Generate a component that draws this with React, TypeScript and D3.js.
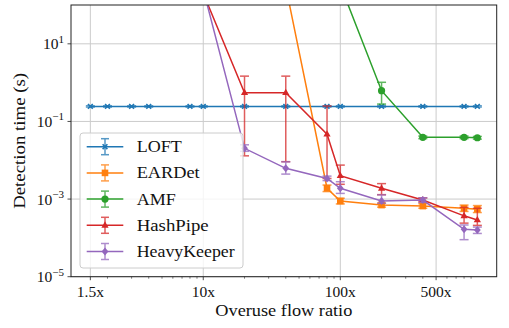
import React from "react";
import * as d3 from "d3";

const xTickValues = [1.5, 10, 100, 500];
const xTickLabels = ["1.5x", "10x", "100x", "500x"];
const yTickValues = [1e1, 1e-1, 1e-3, 1e-5];
const yTickExps = ["1", "\u22121", "\u22123", "\u22125"];

const loftX = [1.5, 2, 3, 4, 8, 10, 20, 40, 80, 100, 200, 400, 800, 1000];
const loftY = [0.244, 0.244, 0.244, 0.244, 0.244, 0.244, 0.244, 0.244, 0.244, 0.244, 0.244, 0.244, 0.244, 0.244];
const loftLo = [0.235, 0.235, 0.235, 0.235, 0.235, 0.235, 0.235, 0.235, 0.235, 0.235, 0.235, 0.235, 0.235, 0.235];
const loftHi = [0.253, 0.253, 0.253, 0.253, 0.253, 0.253, 0.253, 0.253, 0.253, 0.253, 0.253, 0.253, 0.253, 0.253];

const eardetX = [40, 80, 100, 200, 400, 800, 1000];
const eardetY = [300, 0.0019, 0.00089, 0.0007, 0.00066, 0.00058, 0.00055];
const eardetLo = [300, 0.00156, 0.00075, 0.00062, 0.00058, 0.00048, 0.00045];
const eardetHi = [300, 0.0023, 0.00105, 0.00079, 0.00076, 0.0007, 0.00068];

const amfX = [100, 200, 400, 800, 1000];
const amfY = [330, 0.62, 0.039, 0.039, 0.038];
const amfLo = [330, 0.28, 0.036, 0.036, 0.035];
const amfHi = [330, 1.02, 0.042, 0.042, 0.041];

const hashX = [10, 20, 40, 80, 100, 200, 400, 800, 1000];
const hashY = [200, 0.55, 0.55, 0.047, 0.004, 0.0019, 0.00095, 0.00037, 0.00029];
const hashLo = [200, 0.013, 0.0092, 0.0034, 0.0024, 0.0013, 0.00085, 0.00024, 0.00021];
const hashHi = [200, 1.47, 1.47, 0.25, 0.0075, 0.0025, 0.00107, 0.00061, 0.00058];

const hkX = [10, 20, 40, 80, 100, 200, 400, 800, 1000];
const hkY = [250, 0.0203, 0.0062, 0.0034, 0.0019, 0.00089, 0.00094, 0.000166, 0.000159];
const hkLo = [250, 0.017, 0.0044, 0.003, 0.0014, 0.00078, 0.00082, 0.00009, 0.00013];
const hkHi = [250, 0.025, 0.0091, 0.0039, 0.0028, 0.00128, 0.00108, 0.000215, 0.00019];

const seriesNames = ["LOFT", "EARDet", "AMF", "HashPipe", "HeavyKeeper"];
const seriesColors = ["#1f77b4", "#ff7f0e", "#2ca02c", "#d62728", "#9467bd"];
const seriesMarkers = ["x", "square", "circle", "triangle", "diamond"];

const series = [
  { x: loftX, y: loftY, lo: loftLo, hi: loftHi },
  { x: eardetX, y: eardetY, lo: eardetLo, hi: eardetHi },
  { x: amfX, y: amfY, lo: amfLo, hi: amfHi },
  { x: hashX, y: hashY, lo: hashLo, hi: hashHi },
  { x: hkX, y: hkY, lo: hkLo, hi: hkHi },
].map((s, i) => ({ ...s, name: seriesNames[i], color: seriesColors[i], marker: seriesMarkers[i] }));

const W = 509;
const H = 328;
const L = 71, R = 496.7, T = 5, B = 276.7;
const FONT = "'Liberation Serif', 'DejaVu Serif', serif";
const legendTextWidths = [45, 63, 39, 72, 98];

const xScale = d3.scaleLog().domain([1.5 / Math.pow(10, 0.1412), 1000 * Math.pow(10, 0.1412)]).range([L, R]);
const yScale = d3.scaleLog().domain([1e-5, 1e2]).range([B, T]);

function Marker({ type, cx, cy, color }: { type: string; cx: number; cy: number; color: string }) {
  if (type === "x") {
    const s = 2.4;
    return (
      <path
        d={`M${cx - s},${cy - s}L${cx + s},${cy + s}M${cx - s},${cy + s}L${cx + s},${cy - s}`}
        stroke={color}
        strokeWidth={1.6}
        fill="none"
      />
    );
  }
  if (type === "square") {
    return <rect x={cx - 3.3} y={cy - 3.3} width={6.6} height={6.6} fill={color} />;
  }
  if (type === "circle") {
    return <circle cx={cx} cy={cy} r={3.6} fill={color} />;
  }
  if (type === "triangle") {
    const s = 4;
    return <path d={`M${cx},${cy - s}L${cx + s * 0.9},${cy + s * 0.6}L${cx - s * 0.9},${cy + s * 0.6}Z`} fill={color} />;
  }
  const s = 4;
  return <path d={`M${cx},${cy - s}L${cx + s * 0.85},${cy}L${cx},${cy + s}L${cx - s * 0.85},${cy}Z`} fill={color} />;
}

export default function App() {
  const line = d3
    .line<[number, number]>()
    .x((d) => xScale(d[0]))
    .y((d) => yScale(d[1]));

  const minorTicks: number[] = [];
  for (let e = 0; e <= 3; e++) {
    for (let m = 2; m <= 9; m++) {
      const v = m * Math.pow(10, e);
      if (v >= xScale.domain()[0] && v <= xScale.domain()[1] && !xTickValues.includes(v)) minorTicks.push(v);
    }
  }

  const cap = 4.5;
  const legendRows = series.map((s, i) => ({ s, y: 146.7 + i * 26.2, w: legendTextWidths[i] }));

  return (
    <svg width={W} height={H} style={{ position: "absolute", left: 0, top: 0, background: "#fff" }} fontFamily={FONT}>
      <defs>
        <clipPath id="plotclip">
          <rect x={L} y={T} width={R - L} height={B - T} />
        </clipPath>
      </defs>
      <rect x={0} y={0} width={W} height={H} fill="#fff" />
      {/* grid */}
      <g stroke="#cbcbcb" strokeWidth={1}>
        {xTickValues.map((v) => (
          <line key={"gx" + v} x1={xScale(v)} x2={xScale(v)} y1={T} y2={B} />
        ))}
        {yTickValues.map((v) => (
          <line key={"gy" + v} x1={L} x2={R} y1={yScale(v)} y2={yScale(v)} />
        ))}
      </g>
      {/* data */}
      <g clipPath="url(#plotclip)">
        {series.map((s) => {
          const pts = s.x.map((xv, i) => [xv, s.y[i]] as [number, number]);
          return (
            <g key={s.name}>
              <path d={line(pts) || ""} fill="none" stroke={s.color} strokeWidth={1.5} />
              <g stroke={s.color} strokeWidth={1.5} opacity={0.75}>
                {s.x.map((xv, i) => {
                  const px = xScale(xv);
                  const ylo = yScale(s.lo[i]);
                  const yhi = yScale(s.hi[i]);
                  return (
                    <g key={i}>
                      <line x1={px} x2={px} y1={ylo} y2={yhi} />
                      <line x1={px - cap} x2={px + cap} y1={ylo} y2={ylo} />
                      <line x1={px - cap} x2={px + cap} y1={yhi} y2={yhi} />
                    </g>
                  );
                })}
              </g>
              {s.x.map((xv, i) => (
                <Marker key={i} type={s.marker} cx={xScale(xv)} cy={yScale(s.y[i])} color={s.color} />
              ))}
            </g>
          );
        })}
      </g>
      {/* spines */}
      <rect x={L} y={T} width={R - L} height={B - T} fill="none" stroke="#222" strokeWidth={1} />
      {/* ticks */}
      <g stroke="#222" strokeWidth={0.8}>
        {xTickValues.map((v) => (
          <line key={"tx" + v} x1={xScale(v)} x2={xScale(v)} y1={B} y2={B + 3.5} />
        ))}
        {minorTicks.map((v) => (
          <line key={"mx" + v} x1={xScale(v)} x2={xScale(v)} y1={B} y2={B + 2} strokeWidth={0.6} />
        ))}
        {yTickValues.map((v) => (
          <line key={"ty" + v} x1={L - 3.5} x2={L} y1={yScale(v)} y2={yScale(v)} />
        ))}
      </g>
      <g fontSize={15.5} fill="#111">
        {xTickValues.map((v, i) => (
          <text key={"lx" + v} x={xScale(v)} y={296.5} textAnchor="middle">
            {xTickLabels[i]}
          </text>
        ))}
        {yTickValues.map((v, i) => (
          <text key={"ly" + v} x={64} y={yScale(v) + 5.5} textAnchor="end">
            10
            <tspan fontSize={11} dy={-6.5}>
              {yTickExps[i]}
            </tspan>
          </text>
        ))}
      </g>
      <text
        x={(L + R) / 2}
        y={316}
        textAnchor="middle"
        fontSize={17}
        fill="#111"
        textLength={137}
        lengthAdjust="spacingAndGlyphs"
      >
        Overuse flow ratio
      </text>
      <text
        transform={`translate(25,${(T + B) / 2}) rotate(-90)`}
        textAnchor="middle"
        fontSize={17}
        fill="#111"
        textLength={136}
        lengthAdjust="spacingAndGlyphs"
      >
        Detection time (s)
      </text>
      {/* legend */}
      <rect x={80} y={133} width={163} height={135} rx={3} fill="#fff" fillOpacity={0.8} stroke="#cccccc" strokeWidth={1} />
      {legendRows.map(({ s, y, w }) => (
        <g key={"lg" + s.name}>
          <line x1={86.7} x2={123.3} y1={y} y2={y} stroke={s.color} strokeWidth={1.5} />
          <g stroke={s.color} strokeWidth={1.5} opacity={0.75}>
            <line x1={105} x2={105} y1={y - 8} y2={y + 8} />
            <line x1={105 - 4} x2={105 + 4} y1={y - 8} y2={y - 8} />
            <line x1={105 - 4} x2={105 + 4} y1={y + 8} y2={y + 8} />
          </g>
          <Marker type={s.marker} cx={105} cy={y} color={s.color} />
          <text x={136.7} y={y + 5.5} fontSize={16} fill="#111" textLength={w} lengthAdjust="spacingAndGlyphs">
            {s.name}
          </text>
        </g>
      ))}
    </svg>
  );
}
